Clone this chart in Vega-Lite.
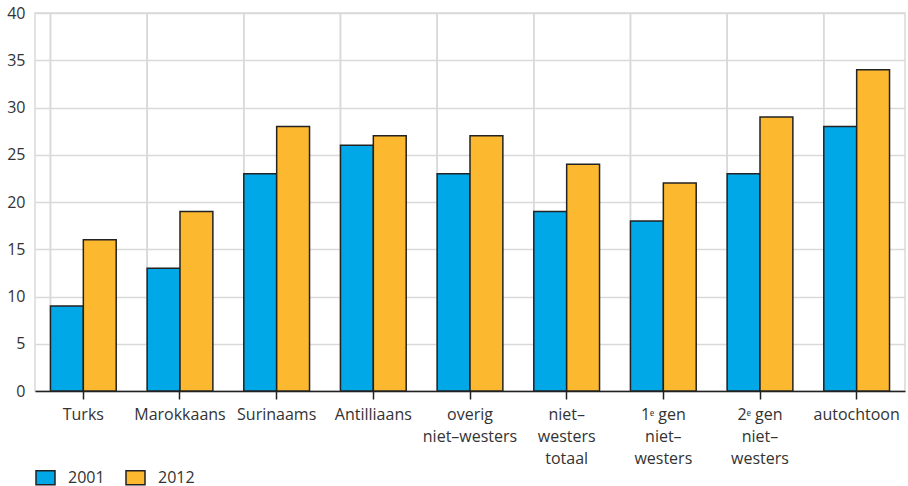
{
  "$schema": "https://vega.github.io/schema/vega-lite/v6.json",
  "autosize": "none",
  "width": 870,
  "height": 378,
  "padding": {"left": 35, "top": 13, "right": 3, "bottom": 95},
  "config": {
    "view": {"stroke": "#d9d9d9", "strokeWidth": 1.5},
    "font": "Open Sans",
    "axis": {"labelFont": "Open Sans", "labelFontSize": 16, "labelColor": "#333333"},
    "legend": {"labelFont": "Open Sans", "labelFontSize": 16, "labelColor": "#333333"}
  },
  "data": {
    "values": [
      {"cat": "Turks", "year": "2001", "value": 9},
      {"cat": "Turks", "year": "2012", "value": 16},
      {"cat": "Marokkaans", "year": "2001", "value": 13},
      {"cat": "Marokkaans", "year": "2012", "value": 19},
      {"cat": "Surinaams", "year": "2001", "value": 23},
      {"cat": "Surinaams", "year": "2012", "value": 28},
      {"cat": "Antilliaans", "year": "2001", "value": 26},
      {"cat": "Antilliaans", "year": "2012", "value": 27},
      {"cat": "overig|niet–westers", "year": "2001", "value": 23},
      {"cat": "overig|niet–westers", "year": "2012", "value": 27},
      {"cat": "niet–|westers|totaal", "year": "2001", "value": 19},
      {"cat": "niet–|westers|totaal", "year": "2012", "value": 24},
      {"cat": "1ᵉ gen|niet–|westers", "year": "2001", "value": 18},
      {"cat": "1ᵉ gen|niet–|westers", "year": "2012", "value": 22},
      {"cat": "2ᵉ gen|niet–|westers", "year": "2001", "value": 23},
      {"cat": "2ᵉ gen|niet–|westers", "year": "2012", "value": 29},
      {"cat": "autochtoon", "year": "2001", "value": 28},
      {"cat": "autochtoon", "year": "2012", "value": 34}
    ]
  },
  "layer": [
    {
      "mark": {"type": "rule", "color": "#d9d9d9", "strokeWidth": 1.5},
      "encoding": {
        "x": {
          "field": "cat", "type": "nominal", "sort": null, "bandPosition": 0,
          "scale": {"paddingInner": 0.32, "paddingOuter": 0.16},
          "axis": {
            "title": null, "labelAngle": 0, "grid": false,
            "domainColor": "#222222", "domainWidth": 1.5,
            "tickColor": "#222222", "tickWidth": 1.5, "tickSize": 8,
            "labelPadding": 7, "labelLineHeight": 22, "labelBaseline": "top",
            "labelExpr": "split(datum.label, '|')"
          }
        }
      }
    },
    {
      "mark": {"type": "bar", "stroke": "#222222", "strokeWidth": 1.5},
      "encoding": {
        "x": {
          "field": "cat", "type": "nominal", "sort": null,
          "scale": {"paddingInner": 0.32, "paddingOuter": 0.16},
          "axis": {
            "title": null, "labelAngle": 0, "grid": false,
            "domainColor": "#222222", "domainWidth": 1.5,
            "tickColor": "#222222", "tickWidth": 1.5, "tickSize": 8,
            "labelPadding": 7, "labelLineHeight": 22, "labelBaseline": "top",
            "labelExpr": "split(datum.label, '|')"
          }
        },
        "xOffset": {"field": "year", "type": "nominal", "scale": {"paddingInner": 0, "paddingOuter": 0}},
        "y": {
          "field": "value", "type": "quantitative",
          "scale": {"domain": [0, 40], "nice": false},
          "axis": {
            "title": null, "values": [0, 5, 10, 15, 20, 25, 30, 35, 40],
            "domain": false, "ticks": false, "labelPadding": 10,
            "gridColor": "#d9d9d9", "gridWidth": 1.5
          }
        },
        "color": {
          "field": "year", "type": "nominal",
          "scale": {"domain": ["2001", "2012"], "range": ["#00a8e8", "#fcb92f"]},
          "legend": {
            "title": null, "orient": "bottom", "direction": "horizontal",
            "offset": 1, "padding": 0, "columnPadding": 18, "labelOffset": 12,
            "symbolType": "M-1,-0.74H1V0.74H-1Z", "symbolSize": 361,
            "symbolStrokeColor": "#222222", "symbolStrokeWidth": 1.5,
            "symbolOpacity": 1
          }
        }
      }
    }
  ]
}
